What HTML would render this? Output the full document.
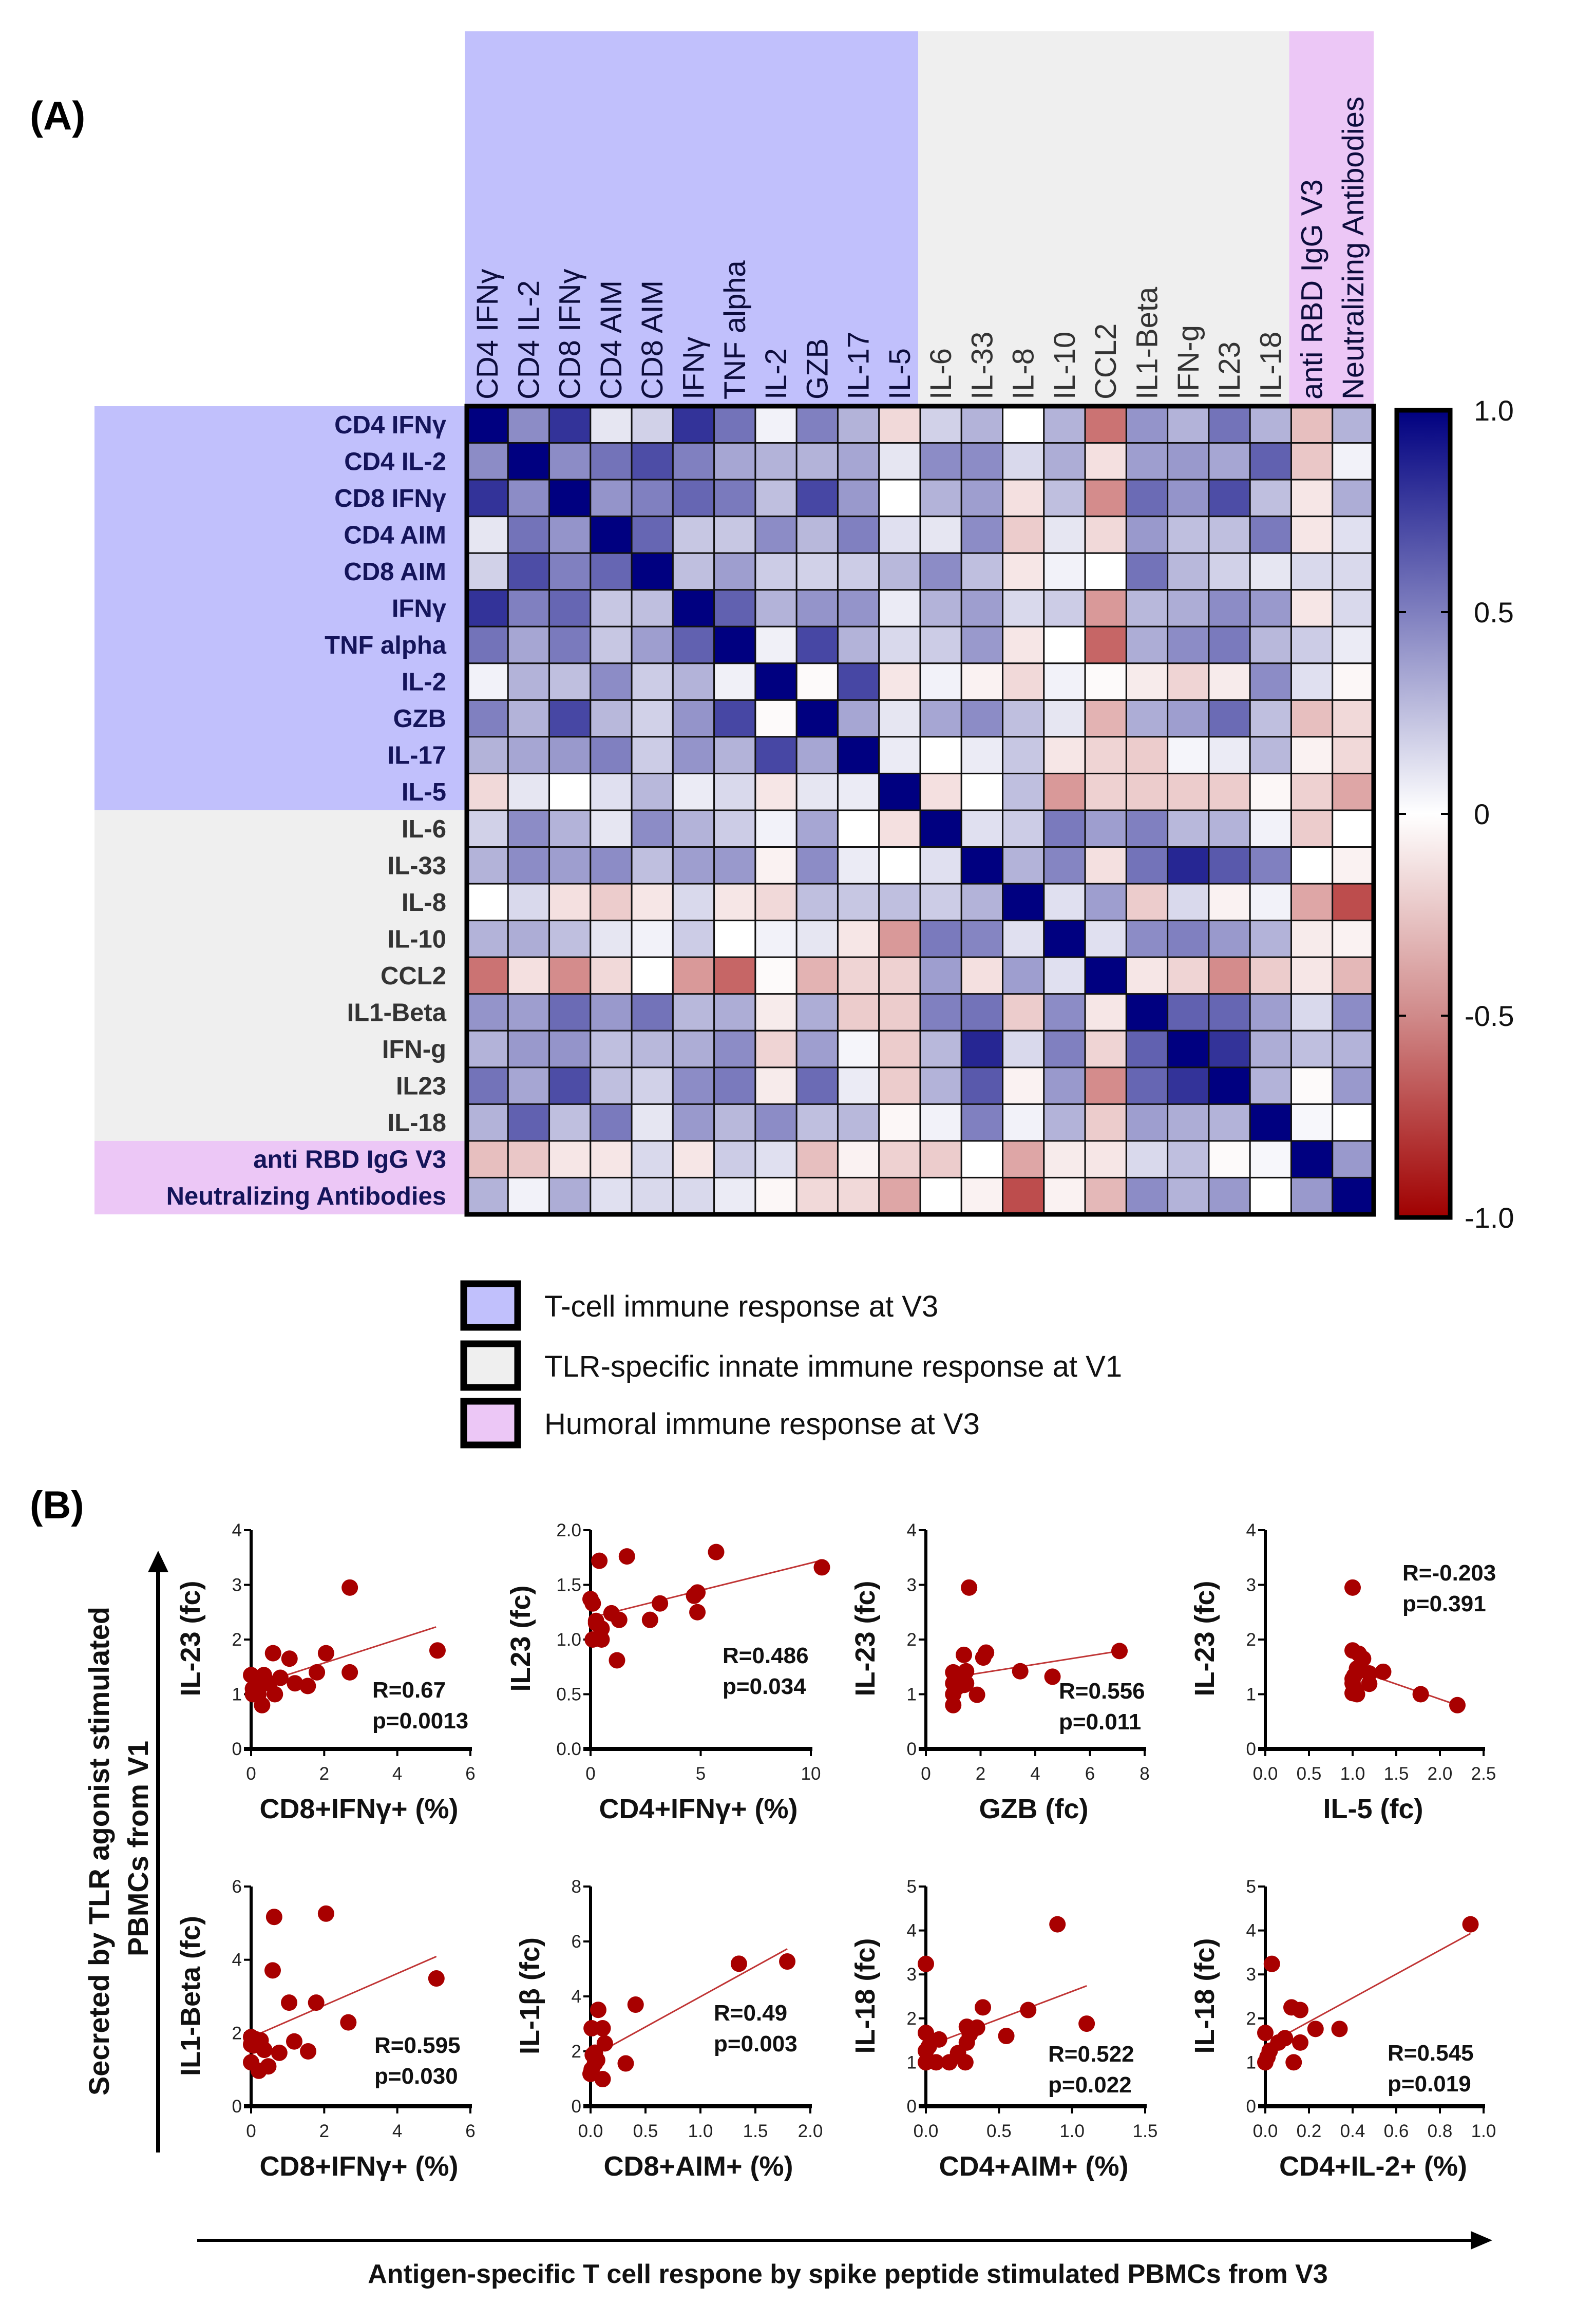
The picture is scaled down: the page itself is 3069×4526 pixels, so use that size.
<!DOCTYPE html>
<html><head><meta charset="utf-8">
<style>
html,body{margin:0;padding:0;background:#fff;}
svg{display:block;font-family:"Liberation Sans",sans-serif;}
</style></head>
<body>
<svg id="fig" xmlns="http://www.w3.org/2000/svg" width="3069" height="4526" viewBox="0 0 3069 4526">
<rect x="0" y="0" width="3069" height="4526" fill="#fff"/>
<text x="58" y="252" font-size="78" font-weight="bold">(A)</text>
<g id="heat"></g>
<g id="cbar"></g>
<g id="legend"></g>
<text x="58" y="2957" font-size="76" font-weight="bold">(B)</text>
<g id="scatters"></g>
<g>
<text transform="translate(212,3605) rotate(-90)" text-anchor="middle" font-size="56" font-weight="bold" fill="#111">Secreted by TLR agonist  stimulated</text>
<text transform="translate(288,3600) rotate(-90)" text-anchor="middle" font-size="56" font-weight="bold" fill="#111">PBMCs from V1</text>
<line x1="308" y1="4192" x2="308" y2="3050" stroke="#000" stroke-width="8"/>
<polygon points="308,3020 288,3062 328,3062" fill="#000"/>
</g>
<g>
<line x1="384" y1="4363" x2="2870" y2="4363" stroke="#000" stroke-width="6"/>
<polygon points="2906,4363 2864,4345 2864,4381" fill="#000"/>
<text x="1651" y="4446" text-anchor="middle" font-size="52" font-weight="bold" fill="#111">Antigen-specific T cell respone by spike peptide stimulated PBMCs from V3</text>
</g>
</svg>
<script>
// ---------- Heatmap data ----------
const heatLabels = ["CD4 IFNγ","CD4 IL-2","CD8 IFNγ","CD4 AIM","CD8 AIM","IFNγ","TNF alpha","IL-2","GZB","IL-17","IL-5","IL-6","IL-33","IL-8","IL-10","CCL2","IL1-Beta","IFN-g","IL23","IL-18","anti RBD IgG V3","Neutralizing Antibodies"];
const heatGroups = [0,0,0,0,0,0,0,0,0,0,0,1,1,1,1,1,1,1,1,1,2,2];
const corrLower = [
[1],
[.45,1],
[.8,.45,1],
[.1,.55,.42,1],
[.18,.7,.5,.6,1],
[.8,.5,.6,.22,.25,1],
[.55,.35,.52,.22,.38,.62,1],
[.05,.3,.25,.45,.2,.3,.06,1],
[.5,.3,.72,.28,.18,.42,.72,-.02,1],
[.3,.35,.4,.5,.2,.42,.3,.72,.35,1],
[-.15,.1,0,.12,.28,.08,.15,-.1,.1,.08,1],
[.18,.45,.3,.1,.45,.3,.2,.05,.35,0,-.12,1],
[.3,.45,.38,.45,.25,.38,.4,-.05,.45,.08,0,.12,1],
[0,.15,-.12,-.2,-.1,.15,-.1,-.15,.25,.22,.25,.2,.3,1],
[.3,.32,.25,.1,.05,.2,0,.05,.1,-.1,-.4,.52,.48,.12,1],
[-.55,-.12,-.45,-.15,0,-.4,-.6,-.02,-.3,-.17,-.18,.38,-.12,.38,.12,1],
[.42,.38,.58,.4,.55,.28,.32,-.08,.32,-.2,-.2,.5,.55,-.2,.45,-.1,1],
[.3,.4,.42,.25,.28,.32,.45,-.17,.38,.04,-.2,.28,.85,.15,.5,-.17,.62,1],
[.55,.35,.7,.25,.18,.45,.52,-.08,.58,.08,-.2,.3,.65,-.05,.4,-.45,.6,.8,1],
[.3,.62,.25,.52,.1,.4,.28,.45,.25,.28,-.03,.05,.5,.05,.3,-.2,.38,.32,.3,1],
[-.25,-.22,-.1,-.1,.15,-.1,.2,.12,-.25,-.05,-.18,-.2,0,-.35,-.08,-.1,.15,.25,-.02,.03,1],
[.3,.05,.32,.12,.15,.15,.08,-.03,-.15,-.15,-.35,0,-.05,-.7,-.05,-.28,.45,.3,.4,0,.4,1]
];
const scaleTicks = [1.0,0.5,0,-0.5,-1.0];
const scaleTickLabels = ["1.0","0.5","0","-0.5","-1.0"];
const legendLabels = ["T-cell immune response at V3","TLR-specific innate immune response at V1","Humoral immune response at V3"];

// ---------- Scatter data ----------
const p1x=[0,0.05,0.05,0.1,0.15,0.2,0.3,0.35,0.4,0.5,0.6,0.65,0.8,1.05,1.2,1.55,1.8,2.05,2.7,2.7,5.1,0.2];
const p1y=[1.35,1.0,1.1,1.05,1.2,1.0,0.8,1.35,1.2,1.2,1.75,1.0,1.3,1.65,1.2,1.15,1.4,1.75,1.4,2.95,1.8,1.1];
const p2x=[0,0.1,0.4,1.65,5.7,10.5,4.85,4.7,3.15,4.85,0.95,1.3,2.7,0.25,0.5,0.1,0.5,1.2,0.25];
const p2y=[1.37,1.33,1.72,1.76,1.8,1.66,1.43,1.4,1.33,1.25,1.24,1.18,1.18,1.17,1.1,1.0,1.0,0.81,1.15];
const p3x=[1.58,1.39,2.2,2.1,7.08,3.45,4.63,1.0,1.47,1.07,1.0,1.23,1.4,1.47,1.0,1.87,1.0,1.15];
const p3y=[2.95,1.72,1.76,1.67,1.79,1.42,1.32,1.4,1.42,1.28,1.2,1.25,1.17,1.2,1.0,0.99,0.8,1.13];
const p4x=[1.0,1.0,1.07,1.12,1.05,1.19,1.35,1.02,1.19,1.0,1.02,1.05,1.0,1.78,2.2,1.0];
const p4y=[2.95,1.8,1.74,1.65,1.47,1.38,1.41,1.34,1.19,1.2,1.09,1.0,1.02,1.0,0.8,1.28];
const p5x=[0.63,2.05,0.59,5.07,1.04,1.78,2.66,0,0.12,0.26,0,0.36,0.77,1.18,1.56,0,0.21,0.47,0.06];
const p5y=[5.17,5.26,3.71,3.49,2.83,2.83,2.29,1.89,1.83,1.8,1.69,1.54,1.46,1.77,1.5,1.2,0.97,1.09,1.66];
const p6x=[1.35,1.79,0.41,0.07,0.01,0.11,0.13,0.32,0.02,0.04,0.01,0,0.11,0.04,0.06];
const p6y=[5.19,5.27,3.7,3.51,2.84,2.84,2.29,1.56,1.87,1.56,1.34,1.18,0.99,1.95,1.68];
const p7x=[0.9,0,0.39,0.7,1.1,0.55,0.28,0.35,0,0.09,0.3,0.28,0.02,0,0.22,0,0.07,0.16,0.27];
const p7y=[4.14,3.24,2.25,2.19,1.88,1.6,1.81,1.79,1.67,1.52,1.64,1.45,1.36,1.26,1.21,1.0,1.0,1.0,1.0];
const p8x=[0.94,0.03,0.12,0.16,0.23,0.34,0,0.09,0.06,0.16,0.02,0,0.13,0.01];
const p8y=[4.14,3.24,2.25,2.19,1.76,1.76,1.67,1.55,1.45,1.45,1.26,1.0,1.0,1.12];
const fitStartX=[0.83,0,1.39,1.22,0.15,0.06,0.13,0];
const fitEndX=[5.06,10.4,7.08,2.2,5.07,1.79,1.1,0.94];
const fitStartY=[1.32,1.2,1.34,1.34,1.95,1.92,1.52,1.38];
const fitEndY=[2.23,1.72,1.79,0.8,4.09,5.73,2.74,3.93];
const statR=["R=0.67","R=0.486","R=0.556","R=-0.203","R=0.595","R=0.49","R=0.522","R=0.545"];
const statP=["p=0.0013","p=0.034","p=0.011","p=0.391","p=0.030","p=0.003","p=0.022","p=0.019"];
const xTitles=["CD8+IFNγ+ (%)","CD4+IFNγ+ (%)","GZB (fc)","IL-5 (fc)","CD8+IFNγ+ (%)","CD8+AIM+ (%)","CD4+AIM+ (%)","CD4+IL-2+ (%)"];
const yTitles=["IL-23 (fc)","IL23 (fc)","IL-23 (fc)","IL-23 (fc)","IL1-Beta (fc)","IL-1β (fc)","IL-18 (fc)","IL-18 (fc)"];
const xTickVals=[[0,2,4,6],[0,5,10],[0,2,4,6,8],[0,0.5,1,1.5,2,2.5],[0,2,4,6],[0,0.5,1,1.5,2],[0,0.5,1,1.5],[0,0.2,0.4,0.6,0.8,1]];
const xTickText=[["0","2","4","6"],["0","5","10"],["0","2","4","6","8"],["0.0","0.5","1.0","1.5","2.0","2.5"],["0","2","4","6"],["0.0","0.5","1.0","1.5","2.0"],["0.0","0.5","1.0","1.5"],["0.0","0.2","0.4","0.6","0.8","1.0"]];
const yTickVals=[[0,1,2,3,4],[0,0.5,1,1.5,2],[0,1,2,3,4],[0,1,2,3,4],[0,2,4,6],[0,2,4,6,8],[0,1,2,3,4,5],[0,1,2,3,4,5]];
const yTickText=[["0","1","2","3","4"],["0.0","0.5","1.0","1.5","2.0"],["0","1","2","3","4"],["0","1","2","3","4"],["0","2","4","6"],["0","2","4","6","8"],["0","1","2","3","4","5"],["0","1","2","3","4","5"]];

const NS="http://www.w3.org/2000/svg";
function mk(tag,attrs,parent){const e=document.createElementNS(NS,tag);for(const k in attrs)e.setAttribute(k,attrs[k]);parent.appendChild(e);return e;}
function corr(i,j){return i>=j?corrLower[i][j]:corrLower[j][i];}
function col(v){
  if(v>=0){const r=Math.round(255*(1-v)),b=Math.round(255-127*v);return `rgb(${r},${r},${b})`;}
  const t=-v;return `rgb(${Math.round(255-95*t)},${Math.round(255*(1-t))},${Math.round(255*(1-t))})`;
}
const groupFill=["#c1c0fc","#efefef","#ecc7f6"];
const rowText=["#14145a","#333","#14145a"];

const HX=909,HY=791,HW=1766,HH=1574,N=heatLabels.length;
const cw=HW/N,ch=HH/N;
const heat=document.getElementById('heat');
const bands=[[0,11],[11,20],[20,22]];
bands.forEach((b,g)=>{
  const cb=mk('rect',{x:HX+b[0]*cw-4,y:61,width:(b[1]-b[0])*cw+(g==2?4:0),height:HY-61,fill:groupFill[g]},heat);
  
  
  const rb=mk('rect',{x:184,y:HY+b[0]*ch,width:HX-184,height:(b[1]-b[0])*ch,fill:groupFill[g]},heat);
  
  
});
for(let i=0;i<N;i++){
  for(let j=0;j<N;j++){
    const c=mk('rect',{x:HX+j*cw,y:HY+i*ch,width:cw,height:ch,fill:col(corr(i,j)),stroke:'#111','stroke-width':3},heat);
    
    
  }
  const rl=mk('text',{x:869,y:HY+i*ch+ch/2+17,'text-anchor':'end','font-size':49,'font-weight':'bold',fill:rowText[heatGroups[i]]},heat);
  rl.textContent=heatLabels[i];
  
  
  const cx=HX+i*cw+cw/2+20;
  const cl=mk('text',{transform:`translate(${cx},778) rotate(-90)`,'font-size':58,fill:heatGroups[i]==1?'#333':'#0d0d3d'},heat);
  cl.textContent=heatLabels[i];
  
  
}
const hb=mk('rect',{x:HX,y:HY,width:HW,height:HH,fill:'none',stroke:'#000','stroke-width':9},heat);



const cbar=document.getElementById('cbar');
const defs=mk('defs',{},cbar);
const lg=mk('linearGradient',{id:'cg',x1:0,y1:0,x2:0,y2:1},defs);
[[0,'#000080'],[0.25,'#7f7fbf'],[0.5,'#ffffff'],[0.75,'#d08a8a'],[1,'#a00000']].forEach(s=>mk('stop',{offset:s[0],'stop-color':s[1]},lg));
const CBX=2720,CBY=799,CBW=104,CBH=1572;
const cbv=v=>CBY+(1-v)/2*CBH;
const cbr=mk('rect',{x:CBX,y:CBY,width:CBW,height:CBH,fill:'url(#cg)',stroke:'#000','stroke-width':9},cbar);


scaleTicks.forEach((v,k)=>{
  const y=cbv(v);
  if(k>0&&k<scaleTicks.length-1){
    const t1=mk('line',{x1:CBX,y1:y,x2:CBX+18,y2:y,stroke:'#000','stroke-width':4},cbar);
    
    
    const t2=mk('line',{x1:CBX+CBW-18,y1:y,x2:CBX+CBW,y2:y,stroke:'#000','stroke-width':4},cbar);
    
    
  }
  const tl=mk('text',{x:v<0?2852:2870,y:y+20,'font-size':56,fill:'#111'},cbar);
  tl.textContent=scaleTickLabels[k];
  
  
});

const legend=document.getElementById('legend');
const legY=[2500,2617,2729];
legendLabels.forEach((t,k)=>{
  const r=mk('rect',{x:903,y:legY[k],width:105,height:85,fill:groupFill[k],stroke:'#000','stroke-width':13},legend);
  
  
  const tx=mk('text',{x:1060,y:legY[k]+64,'font-size':58,fill:'#111'},legend);
  tx.textContent=t;
  
  
});

const allX=[p1x,p2x,p3x,p4x,p5x,p6x,p7x,p8x];
const allY=[p1y,p2y,p3y,p4y,p5y,p6y,p7y,p8y];
const panelX0=[489,1150,1803,2464,489,1150,1803,2464];
const panelXLen=[427,429,426,425,427,428,427,425];
const panelY0=[3406,3406,3406,3406,4102,4102,4102,4102];
const panelYLen=[426,426,426,426,428,428,428,428];
const statPos=[[725,3306],[1407,3239],[2062,3308],[2731,3078],[729,3998],[1390,3935],[2041,4015],[2702,4013]];
const scat=document.getElementById('scatters');
for(let p=0;p<8;p++){
  const g=mk('g',{},scat);
  
  
  const xt=xTickVals[p],yt=yTickVals[p];
  const xmax=xt[xt.length-1],ymax=yt[yt.length-1];
  const X=v=>panelX0[p]+v/xmax*panelXLen[p];
  const Y=v=>panelY0[p]-v/ymax*panelYLen[p];
  const ya=mk('line',{x1:X(0),y1:Y(ymax),x2:X(0),y2:panelY0[p]+4,stroke:'#000','stroke-width':6},g);
  
  
  const xa=mk('line',{x1:X(0)-14,y1:Y(0),x2:X(xmax)+3,y2:Y(0),stroke:'#000','stroke-width':8},g);
  
  
  xt.forEach((v,k)=>{
    const tk=mk('line',{x1:X(v),y1:Y(0),x2:X(v),y2:Y(0)+14,stroke:'#000','stroke-width':4},g);
    
    
    const tl=mk('text',{x:X(v),y:Y(0)+60,'text-anchor':'middle','font-size':35,fill:'#222'},g);
    tl.textContent=xTickText[p][k];
    
    
  });
  let maxLen=0;
  yt.forEach((v,k)=>{
    const tk=mk('line',{x1:X(0)-14,y1:Y(v),x2:X(0),y2:Y(v),stroke:'#000','stroke-width':4},g);
    
    
    const tl=mk('text',{x:X(0)-18,y:Y(v)+12,'text-anchor':'end','font-size':35,fill:'#222'},g);
    tl.textContent=yTickText[p][k];
    maxLen=Math.max(maxLen,yTickText[p][k].length);
    
    
  });
  const fl=mk('line',{x1:X(fitStartX[p]),y1:Y(fitStartY[p]),x2:X(fitEndX[p]),y2:Y(fitEndY[p]),stroke:'#c03535','stroke-width':3},g);
  
  
  allX[p].forEach((xv,k)=>{
    const d=mk('circle',{cx:X(xv),cy:Y(allY[p][k]),r:16,fill:'#a80000'},g);
    
    
  });
  const r=mk('text',{x:statPos[p][0],y:statPos[p][1],'font-size':44,'font-weight':'bold',fill:'#111'},g);
  r.textContent=statR[p];
  
  
  const pv=mk('text',{x:statPos[p][0],y:statPos[p][1]+60,'font-size':44,'font-weight':'bold',fill:'#111'},g);
  pv.textContent=statP[p];
  
  
  const xtl=mk('text',{x:X(0)+210,y:panelY0[p]+135,'text-anchor':'middle','font-size':54,'font-weight':'bold',fill:'#111'},g);
  xtl.textContent=xTitles[p];
  
  
  const off=maxLen>1?118:100;
  const ytl=mk('text',{transform:`translate(${X(0)-off},${panelY0[p]-215}) rotate(-90)`,'text-anchor':'middle','font-size':54,'font-weight':'bold',fill:'#111'},g);
  ytl.textContent=yTitles[p];
  
  
}
</script>
</body></html>
